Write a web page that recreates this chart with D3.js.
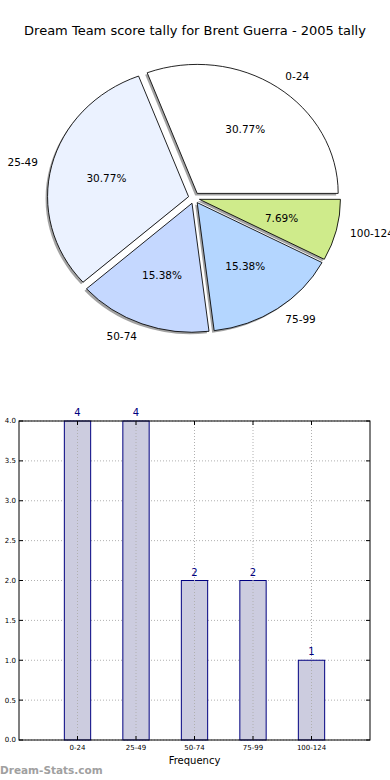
<!DOCTYPE html>
<html><head><meta charset="utf-8">
<script src="https://cdn.jsdelivr.net/npm/d3@7"></script>
<style>body{margin:0;background:#fff;} svg{display:block;font-family:"DejaVu Sans",sans-serif;}</style>
</head><body>
<script>
const categories = ["0-24","25-49","50-74","75-99","100-124"];
const counts = [4,4,2,2,1];
const pctLabels = ["30.77%","30.77%","15.38%","15.38%","7.69%"];
const pieColors = ["#ffffff","#ebf2ff","#c5d8ff","#b4d6ff","#cfeb8b"];
const yTicks = [0,0.5,1,1.5,2,2.5,3,3.5,4];
const title = "Dream Team score tally for Brent Guerra - 2005 tally";

const W=390,H=780;
const svg=d3.select("body").append("svg").attr("width",W).attr("height",H);

svg.append("text").attr("x",195).attr("y",35).attr("text-anchor","middle")
  .attr("font-size",13).attr("fill","#000").text(title);

// ---- Pie ----
const cx=194, cy=198, rx=141, ry=129, explode=5.6;
const total=d3.sum(counts);
let acc=0;
const slices=counts.map((c,i)=>{const t1=acc/total*2*Math.PI; acc+=c; const t2=acc/total*2*Math.PI; return {i,t1,t2,mid:(t1+t2)/2};});
const arc=d3.arc().innerRadius(0).outerRadius(rx);
const pieG=svg.append("g").attr("transform",`translate(${cx},${cy}) scale(1,${ry/rx})`);
slices.forEach(s=>{
  const dx=explode*Math.cos(s.mid), dy=-explode*Math.sin(s.mid)*(rx/ry);
  pieG.append("path").attr("transform",`translate(${dx-2},${dy+2.2})`)
    .attr("d",arc({startAngle:Math.PI/2-s.t2,endAngle:Math.PI/2-s.t1}))
    .attr("fill","#555").attr("fill-opacity",0.55).attr("stroke","none");
});
slices.forEach(s=>{
  const dx=explode*Math.cos(s.mid), dy=-explode*Math.sin(s.mid)*(rx/ry);
  pieG.append("path").attr("transform",`translate(${dx},${dy})`)
    .attr("d",arc({startAngle:Math.PI/2-s.t2,endAngle:Math.PI/2-s.t1}))
    .attr("fill",pieColors[s.i]).attr("stroke","#000").attr("stroke-width",0.9);
});
slices.forEach(s=>{
  const c=Math.cos(s.mid), sn=Math.sin(s.mid);
  const ox=cx+explode*c, oy=cy-explode*sn;
  svg.append("text").attr("x",ox+1.1*rx*c).attr("y",oy-1.1*ry*sn).attr("dy","0.35em")
    .attr("text-anchor",c>0?"start":"end").attr("font-size",10.5).attr("fill","#000").text(categories[s.i]);
  svg.append("text").attr("x",ox+0.6*rx*c).attr("y",oy-0.6*ry*sn).attr("dy","0.35em")
    .attr("text-anchor","middle").attr("font-size",10.5).attr("fill","#000").text(pctLabels[s.i]);
});

// ---- Bar ----
const L=19,R=370,T=421,B=740;
const x=d3.scaleLinear().domain([-1,categories.length]).range([L,R]);
const y=d3.scaleLinear().domain([0,4]).range([B,T]);
const bw=x(0.45)-x(0);
const g=svg.append("g");
yTicks.forEach(t=>{
  g.append("line").attr("x1",L).attr("x2",R).attr("y1",y(t)).attr("y2",y(t))
   .attr("stroke","#b0b0b0").attr("stroke-width",1).attr("stroke-dasharray","1,2");
});
g.selectAll("rect.bar").data(counts).enter().append("rect")
  .attr("x",(d,i)=>x(i)-bw/2).attr("y",d=>y(d)).attr("width",bw).attr("height",d=>B-y(d))
  .attr("fill","#ccccdf").attr("stroke","#000080").attr("stroke-width",1);
categories.forEach((c,i)=>{
  g.append("line").attr("x1",x(i)).attr("x2",x(i)).attr("y1",T).attr("y2",B)
   .attr("stroke","#b0b0b0").attr("stroke-width",1).attr("stroke-dasharray","1,2");
});
g.append("rect").attr("x",L).attr("y",T).attr("width",R-L).attr("height",B-T)
  .attr("fill","none").attr("stroke","#000").attr("stroke-width",1);
yTicks.forEach(t=>{
  g.append("line").attr("x1",L).attr("x2",L+4).attr("y1",y(t)).attr("y2",y(t)).attr("stroke","#000");
  g.append("line").attr("x1",R-4).attr("x2",R).attr("y1",y(t)).attr("y2",y(t)).attr("stroke","#000");
  g.append("text").attr("x",L-3).attr("y",y(t)).attr("dy","0.35em").attr("text-anchor","end")
   .attr("font-size",7).attr("fill","#000").text(t.toFixed(1));
});
categories.forEach((c,i)=>{
  g.append("line").attr("x1",x(i)).attr("x2",x(i)).attr("y1",B-4).attr("y2",B).attr("stroke","#000");
  g.append("line").attr("x1",x(i)).attr("x2",x(i)).attr("y1",T).attr("y2",T+4).attr("stroke","#000");
  g.append("text").attr("x",x(i)).attr("y",B+10).attr("text-anchor","middle")
   .attr("font-size",7).attr("fill","#000").text(c);
  g.append("text").attr("x",x(i)).attr("y",y(counts[i])-5).attr("text-anchor","middle")
   .attr("font-size",10).attr("fill","#000080").text(counts[i]);
});
g.append("text").attr("x",(L+R)/2).attr("y",764).attr("text-anchor","middle")
  .attr("font-size",10).attr("fill","#000").text("Frequency");
svg.append("text").attr("x",0).attr("y",774).attr("font-size",10.5).attr("font-weight","bold")
  .attr("fill","#a0a0a0").text("Dream-Stats.com");
</script>
</body></html>
